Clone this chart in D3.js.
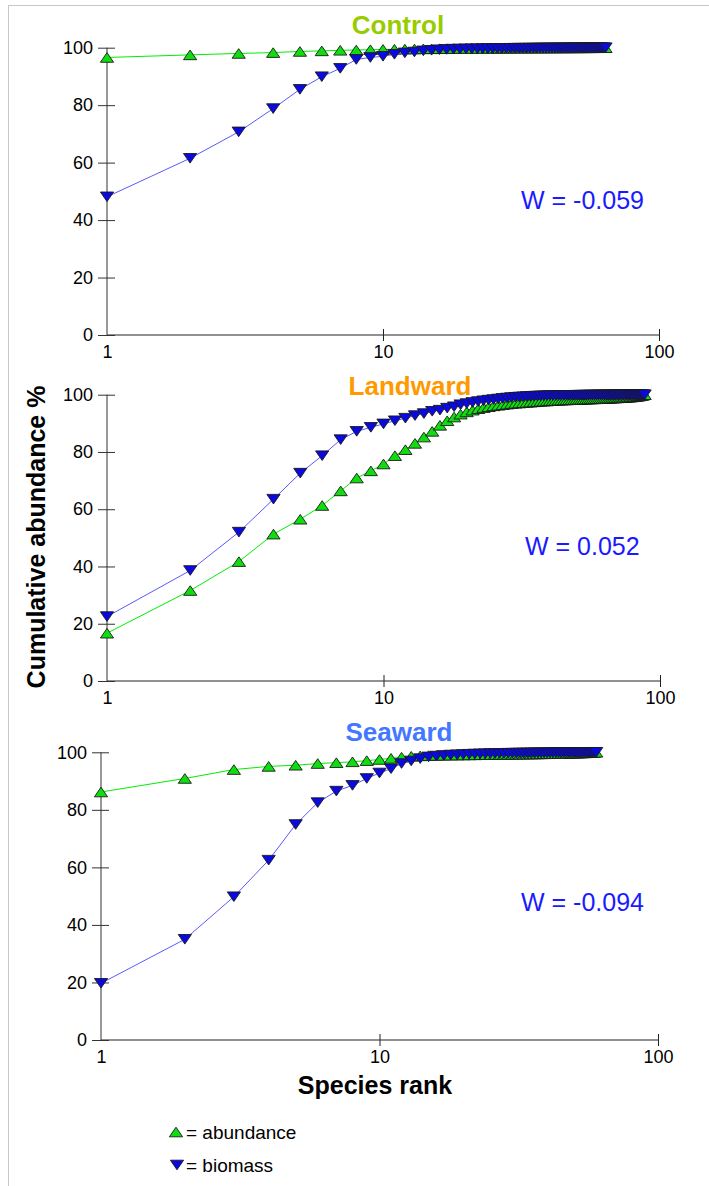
<!DOCTYPE html>
<html>
<head>
<meta charset="utf-8">
<script src="https://cdn.jsdelivr.net/npm/d3@7"></script>
<style>
  body { margin: 0; background: #fff; }
  svg { display: block; }
  text { font-family: Arial, "Liberation Sans", sans-serif; }
</style>
</head>
<body>
<svg id="chart" width="709" height="1186"></svg>
<script>
// k-dominance (ABC) curves: cumulative % by species rank, one panel per site
const panelNames = ["Control", "Landward", "Seaward"];
const wLabels = ["W = -0.059", "W = 0.052", "W = -0.094"];
const xTickValues = [1, 10, 100];
const yTickValues = [0, 20, 40, 60, 80, 100];
const legendLabels = ["= abundance", "= biomass"];

const controlAbundance = [
  96.6, 97.5, 98.0, 98.3, 98.7, 98.9, 99.1, 99.2, 99.3, 99.4,
  99.45, 99.5, 99.55, 99.6, 99.62, 99.65, 99.68, 99.7, 99.72, 99.74,
  99.75, 99.76, 99.77, 99.78, 99.79, 99.8, 99.81, 99.82, 99.83, 99.84,
  99.85, 99.86, 99.86, 99.87, 99.88, 99.88, 99.89, 99.9, 99.9, 99.91,
  99.91, 99.92, 99.92, 99.93, 99.93, 99.94, 99.94, 99.95, 99.95, 99.96,
  99.96, 99.96, 99.97, 99.97, 99.97, 99.98, 99.98, 99.98, 99.99, 99.99,
  99.99, 99.99, 100, 100
];
const controlBiomass = [
  48.1, 61.5, 70.7, 78.8, 85.5, 89.9, 92.8, 95.9, 96.6, 97.0,
  97.7, 98.2, 98.5, 98.9, 99.1, 99.3, 99.4, 99.5, 99.55, 99.6,
  99.63, 99.66, 99.69, 99.71, 99.73, 99.75, 99.77, 99.79, 99.8, 99.82,
  99.83, 99.84, 99.85, 99.86, 99.87, 99.88, 99.89, 99.9, 99.9, 99.91,
  99.92, 99.92, 99.93, 99.93, 99.94, 99.94, 99.95, 99.95, 99.96, 99.96,
  99.97, 99.97, 99.97, 99.98, 99.98, 99.98, 99.99, 99.99, 99.99, 99.99,
  100, 100, 100, 100
];
const landwardAbundance = [
  16.7, 31.6, 41.7, 51.3, 56.5, 61.3, 66.4, 70.9, 73.4, 75.8,
  78.7, 80.8, 83.0, 85.2, 87.2, 89.3, 90.9, 92.2, 93.2, 94.0,
  94.6, 95.1, 95.5, 95.8, 96.1, 96.3, 96.5, 96.7, 96.9, 97.0,
  97.1, 97.2, 97.3, 97.4, 97.5, 97.6, 97.7, 97.75, 97.8, 97.9,
  97.95, 98.0, 98.05, 98.1, 98.14, 98.18, 98.22, 98.26, 98.3, 98.33,
  98.36, 98.39, 98.42, 98.45, 98.48, 98.5, 98.53, 98.55, 98.58, 98.6,
  98.63, 98.66, 98.69, 98.72, 98.75, 98.78, 98.81, 98.84, 98.87, 98.9,
  98.93, 98.96, 98.99, 99.02, 99.06, 99.1, 99.14, 99.18, 99.23, 99.28,
  99.34, 99.4, 99.47, 99.55, 99.64, 99.74, 99.86, 100
];
const landwardBiomass = [
  22.5, 38.6, 52.0, 63.5, 72.6, 78.7, 84.3, 87.2, 88.6, 89.8,
  90.9, 91.8, 92.7, 93.4, 94.2, 94.6, 95.3, 95.8, 96.5, 96.9,
  97.3, 97.6, 97.9, 98.1, 98.3, 98.5, 98.7, 98.85, 99.0, 99.1,
  99.2, 99.28, 99.35, 99.42, 99.48, 99.53, 99.57, 99.6, 99.63, 99.66,
  99.68, 99.7, 99.72, 99.74, 99.76, 99.77, 99.78, 99.79, 99.8, 99.81,
  99.82, 99.83, 99.84, 99.85, 99.86, 99.87, 99.88, 99.88, 99.89, 99.9,
  99.9, 99.91, 99.91, 99.92, 99.92, 99.93, 99.93, 99.94, 99.94, 99.95,
  99.95, 99.96, 99.96, 99.96, 99.97, 99.97, 99.97, 99.98, 99.98, 99.98,
  99.99, 99.99, 99.99, 99.99, 100, 100, 100, 100
];
const seawardAbundance = [
  86.2, 90.9, 94.0, 95.1, 95.5, 96.1, 96.4, 96.7, 97.1, 97.5,
  97.9, 98.3, 98.6, 98.75, 98.85, 98.9, 98.95, 99.0, 99.03, 99.06,
  99.09, 99.12, 99.15, 99.18, 99.2, 99.22, 99.24, 99.26, 99.28, 99.3,
  99.32, 99.34, 99.36, 99.38, 99.4, 99.42, 99.44, 99.46, 99.48, 99.5,
  99.52, 99.54, 99.56, 99.58, 99.6, 99.62, 99.64, 99.66, 99.68, 99.7,
  99.72, 99.74, 99.76, 99.79, 99.82, 99.85, 99.88, 99.92, 99.96, 100
];
const seawardBiomass = [
  19.7, 35.0, 49.8, 62.5, 74.9, 82.5, 86.5, 88.5, 90.9, 92.8,
  94.3, 96.1, 97.0, 97.8, 98.4, 98.7, 98.9, 99.05, 99.15, 99.25,
  99.33, 99.4, 99.46, 99.51, 99.55, 99.59, 99.62, 99.65, 99.68, 99.7,
  99.72, 99.74, 99.76, 99.78, 99.8, 99.81, 99.82, 99.83, 99.84, 99.85,
  99.86, 99.87, 99.88, 99.89, 99.9, 99.91, 99.92, 99.93, 99.94, 99.95,
  99.96, 99.96, 99.97, 99.97, 99.98, 99.98, 99.99, 99.99, 100, 100
];

const abundanceSeries = [controlAbundance, landwardAbundance, seawardAbundance];
const biomassSeries = [controlBiomass, landwardBiomass, seawardBiomass];

// panel frames: left/right pixel of x = 1 and x = 100, top/bottom of y = 100 and y = 0
const frames = [
  { x0: 107, x1: 659, yTop: 47.7, yBot: 335, titleX: 398, titleY: 34, wX: 521, wY: 209 },
  { x0: 107, x1: 660, yTop: 394.7, yBot: 681, titleX: 410, titleY: 395, wX: 525, wY: 555 },
  { x0: 101, x1: 658, yTop: 752.3, yBot: 1040, titleX: 399, titleY: 741, wX: 521, wY: 911 }
];
const titleColors = ["#99cc00", "#ff9900", "#4477ff"];

const svg = d3.select("#chart");

// light page frame on the top and left edges
svg.append("line").attr("x1", 8).attr("x2", 709).attr("y1", 5.5).attr("y2", 5.5)
  .attr("stroke", "#c8c8c8").attr("stroke-width", 1);
svg.append("line").attr("x1", 8.5).attr("x2", 8.5).attr("y1", 5).attr("y2", 1186)
  .attr("stroke", "#c8c8c8").attr("stroke-width", 1);

const upPath = "M0,-4.8L6.6,4.8L-6.6,4.8Z";
const downPath = "M0,4.8L6.6,-4.8L-6.6,-4.8Z";

const greenLine = "#00ee00", greenFill = "#10dd10";
const blueLine = "#5a5aff", blueFill = "#0a0ae0";

frames.forEach((f, i) => {
  const x = d3.scaleLog().domain([1, 100]).range([f.x0, f.x1]);
  const y = d3.scaleLinear().domain([0, 100]).range([f.yBot, f.yTop]);

  // x axis with crossing ticks
  const gx = svg.append("g").attr("transform", `translate(0,${f.yBot})`)
    .call(d3.axisBottom(x).tickValues(xTickValues).tickFormat(d3.format("d")).tickSize(6).tickPadding(4));
  gx.select(".domain").attr("d", `M${f.x0},0H${f.x1}`).attr("stroke", "#222");
  gx.selectAll(".tick line").attr("y1", -6).attr("y2", 6).attr("stroke", "#222");
  gx.selectAll(".tick").filter(d => d === 1).select("line").remove();
  gx.selectAll(".tick text").attr("font-size", 18).attr("fill", "#000")
    .attr("font-family", "Arial, 'Liberation Sans', sans-serif");

  // y axis with crossing ticks
  const gy = svg.append("g").attr("transform", `translate(${f.x0},0)`)
    .call(d3.axisLeft(y).tickValues(yTickValues).tickSize(9).tickPadding(5));
  gy.select(".domain").attr("d", `M0,${f.yTop}V${f.yBot}`).attr("stroke", "#333");
  gy.selectAll(".tick line").attr("x1", 8).attr("x2", -9).attr("stroke", "#333");
  gy.selectAll(".tick text").attr("font-size", 18).attr("fill", "#000")
    .attr("font-family", "Arial, 'Liberation Sans', sans-serif");

  const line = d3.line().x((d, k) => x(k + 1)).y(d => y(d));

  const ab = abundanceSeries[i];
  const bm = biomassSeries[i];

  // abundance curve
  svg.append("path").datum(ab).attr("d", line)
    .attr("fill", "none").attr("stroke", greenLine).attr("stroke-width", 1);
  svg.append("g").selectAll("path").data(ab).join("path")
    .attr("d", upPath)
    .attr("transform", (d, k) => `translate(${x(k + 1)},${y(d)})`)
    .attr("fill", greenFill).attr("stroke", "#1a1a1a").attr("stroke-width", 0.9);

  // biomass curve
  svg.append("path").datum(bm).attr("d", line)
    .attr("fill", "none").attr("stroke", blueLine).attr("stroke-width", 1);
  svg.append("g").selectAll("path").data(bm).join("path")
    .attr("d", downPath)
    .attr("transform", (d, k) => `translate(${x(k + 1)},${y(d)})`)
    .attr("fill", blueFill).attr("stroke", "#1a1a1a").attr("stroke-width", 0.9);

  // panel title and W statistic
  svg.append("text").attr("x", f.titleX).attr("y", f.titleY)
    .attr("text-anchor", "middle").attr("font-size", 26).attr("font-weight", "bold")
    .attr("fill", titleColors[i]).text(panelNames[i]);
  svg.append("text").attr("x", f.wX).attr("y", f.wY)
    .attr("font-size", 25).attr("fill", "#1a1aff").text(wLabels[i]);
});

// axis titles
svg.append("text")
  .attr("transform", "translate(45,537) rotate(-90)")
  .attr("text-anchor", "middle").attr("font-size", 25).attr("font-weight", "bold")
  .attr("fill", "#000").text("Cumulative abundance %");
svg.append("text").attr("x", 375).attr("y", 1094)
  .attr("text-anchor", "middle").attr("font-size", 25).attr("font-weight", "bold")
  .attr("fill", "#000").text("Species rank");

// legend
const legend = svg.append("g");
legend.append("path").attr("d", upPath).attr("transform", "translate(176,1132)")
  .attr("fill", greenFill).attr("stroke", "#1a1a1a").attr("stroke-width", 0.9);
legend.append("text").attr("x", 186).attr("y", 1139).attr("font-size", 19)
  .attr("fill", "#000").text(legendLabels[0]);
legend.append("path").attr("d", downPath).attr("transform", "translate(177,1165)")
  .attr("fill", blueFill).attr("stroke", "#1a1a1a").attr("stroke-width", 0.9);
legend.append("text").attr("x", 186).attr("y", 1172).attr("font-size", 19)
  .attr("fill", "#000").text(legendLabels[1]);
</script>
</body>
</html>
